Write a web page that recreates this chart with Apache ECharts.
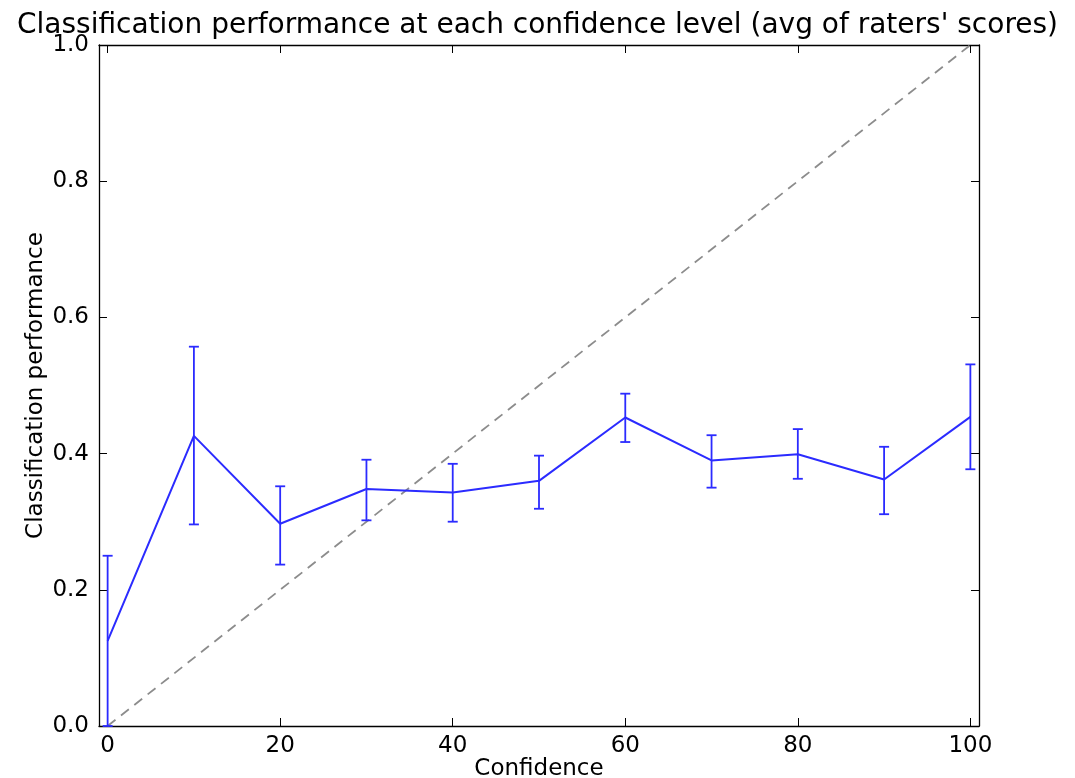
<!DOCTYPE html>
<html>
<head>
<meta charset="utf-8">
<script src="https://cdn.jsdelivr.net/npm/echarts@6/dist/echarts.min.js"></script>
<style>
  html, body { margin: 0; padding: 0; background: #fff; }
  #chart { width: 1075px; height: 778px; }
</style>
</head>
<body>
<div id="chart"></div>
<script>
// Confidence levels and averaged classification scores
const confidence = [0, 10, 20, 30, 40, 50, 60, 70, 80, 90, 100];
const performance = [0.125, 0.426, 0.297, 0.348, 0.343, 0.360, 0.453, 0.390, 0.399, 0.362, 0.454];
const errLow  = [0.000, 0.296, 0.237, 0.302, 0.300, 0.319, 0.417, 0.350, 0.363, 0.311, 0.377];
const errHigh = [0.250, 0.557, 0.352, 0.391, 0.385, 0.397, 0.488, 0.427, 0.436, 0.410, 0.531];
const diagonal = [[0, 0], [100, 1]];
const xTicks = [0, 20, 40, 60, 80, 100];

const FONT = 'DejaVu Sans';
const BLUE = '#2b2bff';

const errData = confidence.map((c, i) => [c, errLow[i], errHigh[i]]);
const lineData = confidence.map((c, i) => [c, performance[i]]);

const chart = echarts.init(document.getElementById('chart'));

const frameLine = { show: true, onZero: false, lineStyle: { color: '#000', width: 1.3 } };

const baseX = {
  type: 'value', min: -1, max: 101,
  axisLine: frameLine,
  axisTick: { show: true, inside: true, length: 8, customValues: xTicks, lineStyle: { color: '#000' } },
  splitLine: { show: false }
};
const baseY = {
  type: 'value', min: 0, max: 1, interval: 0.2,
  axisLine: frameLine,
  axisTick: { show: true, inside: true, length: 8, lineStyle: { color: '#000' } },
  splitLine: { show: false }
};

chart.setOption({
  animation: false,
  backgroundColor: '#fff',
  textStyle: { fontFamily: FONT },
  title: {
    text: "Classification performance at each confidence level (avg of raters' scores)",
    left: 'center', top: 7,
    textStyle: { fontFamily: FONT, fontSize: 28, fontWeight: 'normal', color: '#000' }
  },
  grid: { left: 99, right: 96, top: 45, bottom: 52, containLabel: false, outerBoundsMode: 'none' },
  xAxis: [
    Object.assign({}, baseX, {
      position: 'bottom',
      name: 'Confidence', nameLocation: 'middle', nameGap: 32, nameMoveOverlap: false,
      nameTextStyle: { fontFamily: FONT, fontSize: 23, color: '#000' },
      axisLabel: { show: true, customValues: xTicks, margin: 9, fontFamily: FONT, fontSize: 23, color: '#000' }
    }),
    Object.assign({}, baseX, { position: 'top', axisLabel: { show: false } })
  ],
  yAxis: [
    Object.assign({}, baseY, {
      position: 'left',
      name: 'Classification performance', nameLocation: 'middle', nameGap: 51, nameMoveOverlap: false,
      nameTextStyle: { fontFamily: FONT, fontSize: 23, color: '#000' },
      axisLabel: { show: true, margin: 10, fontFamily: FONT, fontSize: 23, color: '#000',
        formatter: v => v.toFixed(1) }
    }),
    Object.assign({}, baseY, { position: 'right', axisLabel: { show: false } })
  ],
  series: [
    {
      type: 'line', data: diagonal, symbol: 'none', silent: true,
      lineStyle: { color: '#8c8c8c', width: 1.8, type: [10, 7] }, z: 1
    },
    {
      type: 'custom', data: errData, z: 3, silent: true,
      renderItem: function (params, api) {
        const x = api.value(0);
        const lo = api.coord([x, api.value(1)]);
        const hi = api.coord([x, api.value(2)]);
        const hw = 5;
        const style = { stroke: BLUE, lineWidth: 1.8 };
        return {
          type: 'group',
          children: [
            { type: 'line', shape: { x1: lo[0], y1: lo[1], x2: hi[0], y2: hi[1] }, style },
            { type: 'line', shape: { x1: lo[0] - hw, y1: lo[1], x2: lo[0] + hw, y2: lo[1] }, style },
            { type: 'line', shape: { x1: hi[0] - hw, y1: hi[1], x2: hi[0] + hw, y2: hi[1] }, style }
          ]
        };
      }
    },
    {
      type: 'line', data: lineData, symbol: 'none', silent: true,
      lineStyle: { color: BLUE, width: 2 }, z: 4
    }
  ]
});
</script>
</body>
</html>
